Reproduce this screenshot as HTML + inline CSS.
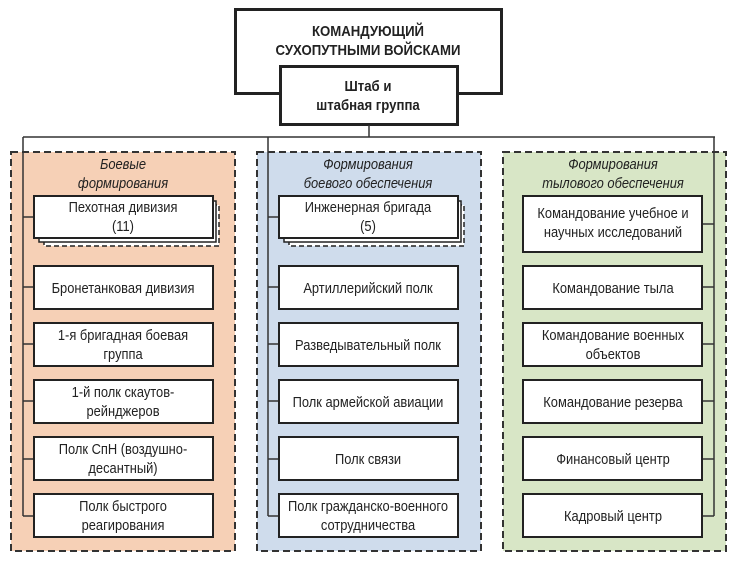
<!DOCTYPE html>
<html><head><meta charset="utf-8"><style>
html,body{margin:0;padding:0;background:#fff;}
svg text{font-family:"Liberation Sans",sans-serif;fill:#222;}
</style></head><body>
<svg width="737" height="566" viewBox="0 0 737 566" xmlns="http://www.w3.org/2000/svg">
<rect x="0" y="0" width="737" height="566" fill="#fff"/>
<rect x="11" y="152" width="224" height="399" fill="#f6d0b6" stroke="#333" stroke-width="2" stroke-dasharray="7,4"/>
<rect x="257" y="152" width="224" height="399" fill="#cfdcec" stroke="#333" stroke-width="2" stroke-dasharray="7,4"/>
<rect x="503" y="152" width="223" height="399" fill="#d8e6c6" stroke="#333" stroke-width="2" stroke-dasharray="7,4"/>
<rect x="235.5" y="9.5" width="266" height="84" fill="#fff" stroke="#222" stroke-width="3"/>
<rect x="280.5" y="66.5" width="177" height="58" fill="#fff" stroke="#222" stroke-width="3"/>
<g font-weight="bold" font-size="15" text-anchor="middle" transform="translate(368,0) scale(0.88,1)">
<text x="0" y="36">КОМАНДУЮЩИЙ</text>
<text x="0" y="55">СУХОПУТНЫМИ ВОЙСКАМИ</text>
<text x="0" y="91">Штаб и</text>
<text x="0" y="110">штабная группа</text>
</g>
<g stroke="#333" stroke-width="1.5" fill="none">
<line x1="369" y1="125" x2="369" y2="137"/>
<line x1="23" y1="137" x2="715" y2="137"/>
<line x1="23" y1="137" x2="23" y2="516"/>
<line x1="268" y1="137" x2="268" y2="516"/>
<line x1="714" y1="137" x2="714" y2="516"/>
<line x1="23" y1="217" x2="34" y2="217"/><line x1="23" y1="287" x2="34" y2="287"/><line x1="23" y1="344" x2="34" y2="344"/><line x1="23" y1="401" x2="34" y2="401"/><line x1="23" y1="459" x2="34" y2="459"/><line x1="23" y1="516" x2="34" y2="516"/>
<line x1="268" y1="217" x2="279" y2="217"/><line x1="268" y1="287" x2="279" y2="287"/><line x1="268" y1="344" x2="279" y2="344"/><line x1="268" y1="401" x2="279" y2="401"/><line x1="268" y1="459" x2="279" y2="459"/><line x1="268" y1="516" x2="279" y2="516"/>
<line x1="702" y1="224" x2="714" y2="224"/><line x1="702" y1="287" x2="714" y2="287"/><line x1="702" y1="344" x2="714" y2="344"/><line x1="702" y1="401" x2="714" y2="401"/><line x1="702" y1="459" x2="714" y2="459"/><line x1="702" y1="516" x2="714" y2="516"/>
</g>
<g stroke="#222" stroke-width="1.5" fill="#fff">
<rect x="44" y="205" width="175" height="41" stroke-dasharray="5,3"/>
<rect x="39" y="201" width="177" height="41"/>
<rect x="289" y="205" width="175" height="41" stroke-dasharray="5,3"/>
<rect x="284" y="201" width="177" height="41"/>
</g>
<g stroke="#222" stroke-width="2" fill="#fff">
<rect x="34" y="196" width="179" height="42"/>
<rect x="34" y="266" width="179" height="43"/>
<rect x="34" y="323" width="179" height="43"/>
<rect x="34" y="380" width="179" height="43"/>
<rect x="34" y="437" width="179" height="43"/>
<rect x="34" y="494" width="179" height="43"/>
<rect x="279" y="196" width="179" height="42"/>
<rect x="279" y="266" width="179" height="43"/>
<rect x="279" y="323" width="179" height="43"/>
<rect x="279" y="380" width="179" height="43"/>
<rect x="279" y="437" width="179" height="43"/>
<rect x="279" y="494" width="179" height="43"/>
<rect x="523" y="196" width="179" height="56"/>
<rect x="523" y="266" width="179" height="43"/>
<rect x="523" y="323" width="179" height="43"/>
<rect x="523" y="380" width="179" height="43"/>
<rect x="523" y="437" width="179" height="43"/>
<rect x="523" y="494" width="179" height="43"/>
</g>
<g font-size="15" text-anchor="middle" transform="translate(123,0) scale(0.86,1)">
<text x="0" y="169" font-style="italic">Боевые</text><text x="0" y="188" font-style="italic">формирования</text>
<text x="0" y="212">Пехотная дивизия</text><text x="0" y="231">(11)</text>
<text x="0" y="293">Бронетанковая дивизия</text>
<text x="0" y="340">1-я бригадная боевая</text><text x="0" y="359">группа</text>
<text x="0" y="397">1-й полк скаутов-</text><text x="0" y="416">рейнджеров</text>
<text x="0" y="454">Полк СпН (воздушно-</text><text x="0" y="473">десантный)</text>
<text x="0" y="511">Полк быстрого</text><text x="0" y="530">реагирования</text>
</g>
<g font-size="15" text-anchor="middle" transform="translate(368,0) scale(0.86,1)">
<text x="0" y="169" font-style="italic">Формирования</text><text x="0" y="188" font-style="italic">боевого обеспечения</text>
<text x="0" y="212">Инженерная бригада</text><text x="0" y="231">(5)</text>
<text x="0" y="293">Артиллерийский полк</text>
<text x="0" y="350">Разведывательный полк</text>
<text x="0" y="407">Полк армейской авиации</text>
<text x="0" y="464">Полк связи</text>
<text x="0" y="511">Полк гражданско-военного</text><text x="0" y="530">сотрудничества</text>
</g>
<g font-size="15" text-anchor="middle" transform="translate(613,0) scale(0.86,1)">
<text x="0" y="218">Командование учебное и</text><text x="0" y="237">научных исследований</text>
<text x="0" y="169" font-style="italic">Формирования</text><text x="0" y="188" font-style="italic">тылового обеспечения</text>
<text x="0" y="293">Командование тыла</text>
<text x="0" y="340">Командование военных</text><text x="0" y="359">объектов</text>
<text x="0" y="407">Командование резерва</text>
<text x="0" y="464">Финансовый центр</text>
<text x="0" y="521">Кадровый центр</text>
</g>
</svg>
</body></html>
